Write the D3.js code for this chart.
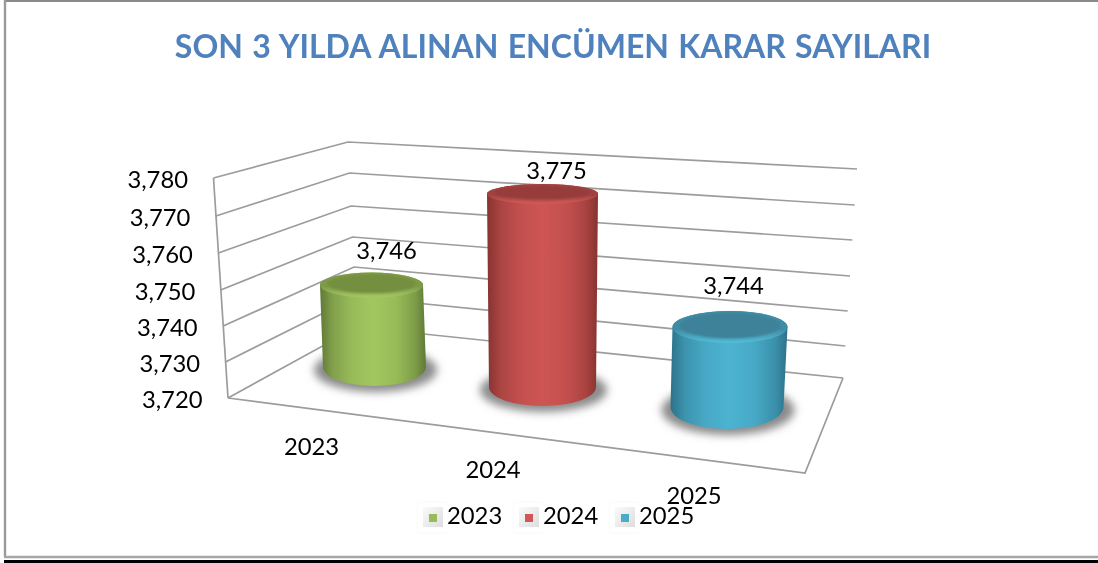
<!DOCTYPE html>
<html><head><meta charset="utf-8">
<script src="https://cdn.jsdelivr.net/npm/d3@7"></script>
<style>html,body{margin:0;padding:0;background:#fff;overflow:hidden}svg{display:block}text{font-family:Lato,"Noto Sans",sans-serif;fill:#000}</style>
</head><body><svg id="c" width="1098" height="563"></svg>
<script>
const chartTitle = "SON 3 YILDA ALINAN ENCÜMEN KARAR SAYILARI";
const categories = ["2023","2024","2025"];
const values = [3746,3775,3744];
const axisTicks = [3720,3730,3740,3750,3760,3770,3780];
const sideLight = ["#a2c65f","#cd5553","#4cb3d1"];
const sideDark = ["#5f7a36","#873230","#2c7289"];
const topFill = ["#748f41","#963d3b","#3c8299"];
const rimFill = ["#a6ca63","#d45c5a","#55bdd9"];
const legendFill = ["#9bbb59","#d0565a","#4bacc6"];

const svg = d3.select("#c"), fmt = d3.format(",");
const defs = svg.append("defs");
defs.append("filter").attr("id","soft").append("feGaussianBlur").attr("stdDeviation",0.45);
defs.append("filter").attr("id","txt").attr("x","-5%").attr("y","-20%").attr("width","110%").attr("height","140%").append("feGaussianBlur").attr("stdDeviation",0.3);
defs.append("filter").attr("id","bevel").attr("x","-10%").attr("y","-30%").attr("width","120%").attr("height","160%").append("feGaussianBlur").attr("stdDeviation",1.3);
defs.append("filter").attr("id","sh").attr("x","-30%").attr("y","-50%").attr("width","160%").attr("height","200%").append("feGaussianBlur").attr("stdDeviation",4);
const legGrad = defs.append("linearGradient").attr("id","leg").attr("x1",0).attr("x2",1).attr("y1",0).attr("y2",1);
legGrad.append("stop").attr("offset",0).attr("stop-color","#fafafa");
legGrad.append("stop").attr("offset",1).attr("stop-color","#dedede");

// frame
const frame = svg.append("g");
frame.append("rect").attr("x",4).attr("y",0).attr("width",1094).attr("height",2).attr("fill","#8a8a8a");
frame.append("line").attr("x1",5).attr("x2",5).attr("y1",0).attr("y2",557).attr("stroke","#9a9a9a").attr("stroke-width",2.4);
frame.append("line").attr("x1",4).attr("x2",1098).attr("y1",557).attr("y2",557).attr("stroke","#a6a6a6").attr("stroke-width",2.4);
frame.append("rect").attr("x",4).attr("y",560).attr("width",1094).attr("height",3).attr("fill","#000");

// title
svg.append("text").attr("x",553).attr("y",57.5).attr("text-anchor","middle").attr("font-size",32).attr("font-weight",700)
  .attr("word-spacing",1.5).attr("filter","url(#txt)").style("fill","#4f81bd").text(chartTitle);

// 3D box: wall edges as scales of the value axis (perspective shortens the upper steps)
const dom = d3.extent(axisTicks);
const frontX = d3.scaleLinear(dom,[228,213.5]), frontY = d3.scaleLinear(axisTicks,[398,362,326,290,253,216,178]);
const backX = d3.scaleLinear(dom,[357,348]), backY = d3.scaleLinear(axisTicks,[327,297,267,237,206,173,142]);
const rightX = d3.scaleLinear(dom,[843,857]), rightY = d3.scaleLinear(axisTicks,[378,346,311,276,240,205,169]);

const grid = svg.append("g").attr("fill","none").attr("stroke","#9c9c9c").attr("stroke-width",1.7).attr("filter","url(#soft)");
grid.selectAll("path.g").data(axisTicks).join("path").attr("class","g")
  .attr("d",t=>d3.line()([[frontX(t),frontY(t)],[backX(t),backY(t)],[rightX(t),rightY(t)]]));
grid.append("path").attr("d",d3.line()([[frontX(dom[1]),frontY(dom[1])],[frontX(dom[0]),frontY(dom[0])]]));
grid.append("path").attr("d",d3.line()([[frontX(dom[0]),frontY(dom[0])],[805,473],[rightX(dom[0]),rightY(dom[0])]]));

// cylinder placement
const baseCx = d3.scaleLinear([0,1,2],[374.5,542.5,727]);
const topCx = d3.scaleLinear([0,1,2],[371.5,542.5,730]);
const baseCy = d3.scaleLinear([0,1,2],[367,387,407]);
const unit = d3.scaleLinear([0,1,2],[3.15,3.51,3.33]);
const baseRx = d3.scaleLinear([0,1,2],[51.5,53.5,56.5]);
const topRx = d3.scaleLinear([0,1,2],[51.5,55.5,57.5]);
const baseRy = d3.scaleLinear([0,1,2],[19,19,22]);
const topRy = d3.scaleLinear([0,1,2],[12.5,10,16]);
const labelX = [386.5,556.5,733.5], labelY = [259,179,294];

categories.forEach((c,i)=>{
  const g = svg.append("g").attr("filter","url(#soft)");
  const yTop = baseCy(i) - (values[i]-dom[0])*unit(i);
  const mix = d3.interpolateRgb(sideDark[i],sideLight[i]);
  const grad = defs.append("linearGradient").attr("id","g"+i).attr("x1",0).attr("x2",1).attr("y1",0).attr("y2",0);
  [[0,sideDark[i]],[0.12,mix(0.5)],[0.3,mix(0.85)],[0.5,sideLight[i]],[0.72,mix(0.85)],[0.9,mix(0.45)],[1,sideDark[i]]]
    .forEach(s=>grad.append("stop").attr("offset",s[0]).attr("stop-color",s[1]));
  const bx=baseCx(i),by=baseCy(i),brx=baseRx(i),bry=baseRy(i),tx=topCx(i),trx=topRx(i),trY=topRy(i);
  const tgrad = defs.append("linearGradient").attr("id","t"+i).attr("x1",0).attr("x2",0).attr("y1",0).attr("y2",1);
  tgrad.append("stop").attr("offset",0).attr("stop-color",d3.interpolateRgb(topFill[i],sideLight[i])(0.25));
  tgrad.append("stop").attr("offset",0.55).attr("stop-color",d3.interpolateRgb(topFill[i],sideLight[i])(0.2));
  tgrad.append("stop").attr("offset",1).attr("stop-color",rimFill[i]);
  g.append("ellipse").attr("cx",bx+1).attr("cy",by+3).attr("rx",brx+10).attr("ry",bry+3)
    .attr("fill","#8a8a8a").attr("filter","url(#sh)");
  g.append("path").attr("fill",`url(#g${i})`)
    .attr("d",`M${tx-trx},${yTop} L${bx-brx},${by} A${brx},${bry} 0 0 0 ${bx+brx},${by} L${tx+trx},${yTop} A${trx},${trY} 0 0 0 ${tx-trx},${yTop}Z`);
  g.append("ellipse").attr("cx",tx).attr("cy",yTop).attr("rx",trx).attr("ry",trY).attr("fill",`url(#t${i})`);
  g.append("ellipse").attr("cx",tx).attr("cy",yTop-1.5).attr("rx",trx-7).attr("ry",Math.max(trY-3,1)).attr("fill",topFill[i]).attr("filter","url(#bevel)");
  svg.append("text").attr("x",labelX[i]).attr("y",labelY[i]).attr("text-anchor","middle").attr("font-size",23.8).attr("filter","url(#txt)").text(fmt(values[i]));
});

// value axis labels
svg.append("g").selectAll("text").data(axisTicks).join("text")
  .attr("x",t=>frontX(t)-25.5).attr("y",t=>frontY(t)+9.5).attr("text-anchor","end").attr("font-size",23.8).attr("filter","url(#txt)").text(t=>fmt(t));

// category labels
const catX = [311.5,493,694], catY = [455,478,504];
svg.append("g").selectAll("text").data(categories).join("text")
  .attr("x",(d,i)=>catX[i]).attr("y",(d,i)=>catY[i]).attr("text-anchor","middle").attr("font-size",23.8).attr("filter","url(#txt)").text(d=>d);

// legend
const legX = d3.scaleLinear([0,1,2],[423,519,615]);
const lg = svg.append("g").selectAll("g").data(categories).join("g").attr("transform",(d,i)=>`translate(${legX(i)},507)`);
lg.append("rect").attr("x",-6).attr("y",-5).attr("width",31).attr("height",31).attr("rx",3).attr("fill","#fff").attr("stroke","#fafafa");
lg.append("rect").attr("width",20).attr("height",20).attr("fill","url(#leg)").attr("filter","url(#soft)");
lg.append("rect").attr("x",6).attr("y",7).attr("width",8).attr("height",8).attr("fill",(d,i)=>legendFill[i]).attr("filter","url(#soft)");
lg.append("text").attr("x",24).attr("y",17).attr("font-size",23.8).attr("filter","url(#txt)").text(d=>d);
</script></body></html>
